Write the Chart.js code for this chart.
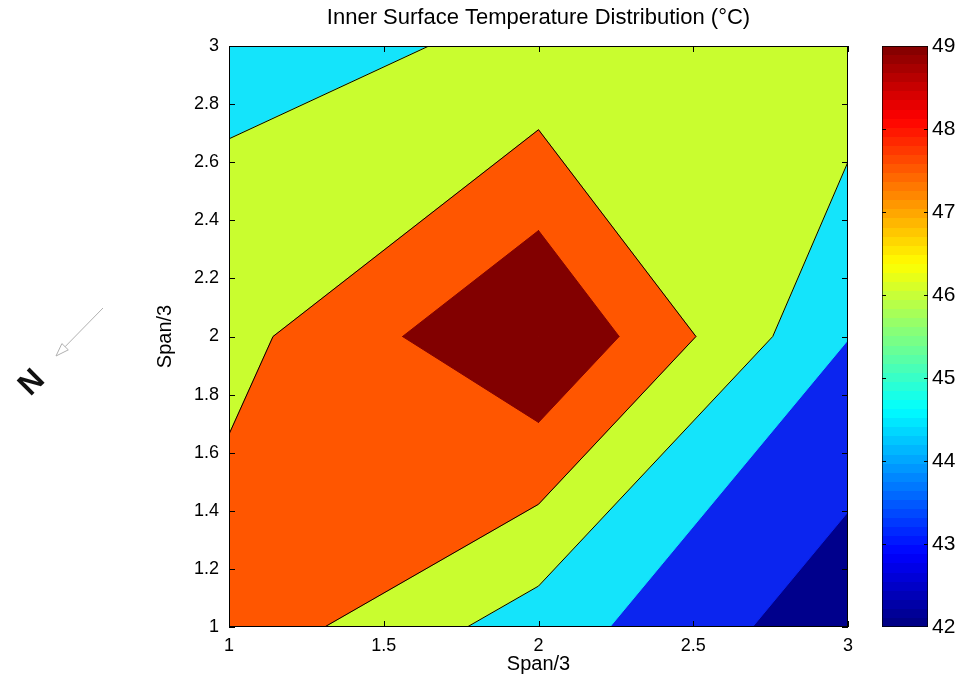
<!DOCTYPE html>
<html>
<head>
<meta charset="utf-8">
<title>Inner Surface Temperature Distribution</title>
<script src="https://cdn.jsdelivr.net/npm/chart.js@4.4.1/dist/chart.umd.min.js"></script>
<style>
  html, body { margin: 0; padding: 0; background: #fff; }
  #wrap { position: relative; width: 963px; height: 698px; }
  #contourChart { position: absolute; left: 0; top: 0; }
  #colorbarChart { position: absolute; left: 882px; top: 0; }
</style>
</head>
<body>
<div id="wrap">
  <canvas id="contourChart" width="963" height="698"></canvas>
  <canvas id="colorbarChart" width="81" height="698"></canvas>
</div>
<script>
// measurement grid, in Span/3 units
const spanX = [1, 2, 3];
const spanY = [1, 2, 3];
// inner surface temperatures (°C), one row per y position, columns follow spanX
const tempRowY1 = [46.67, 44.50, 42.33];
const tempRowY2 = [45.66, 48.05, 44.02];
const tempRowY3 = [44.69, 45.17, 45.65];

// contour levels and the colour of each band (below first level ... above last)
const levels = [43, 44, 45, 46, 47];
const bandColors = ['#00008c', '#0b25ef', '#14e4fb', '#c9fd2f', '#ff5600', '#820000'];
// only these levels get a black contour line
const outlinedLevels = [45, 46];

const xTicks = [1, 1.5, 2, 2.5, 3];
const yTicks = [1, 1.2, 1.4, 1.6, 1.8, 2, 2.2, 2.4, 2.6, 2.8, 3];
const cbTicks = [42, 43, 44, 45, 46, 47, 48, 49];
const cbMin = 42;
const cbMax = 49;

const FONT = '"Liberation Sans", Arial, sans-serif';
const temps = [tempRowY1, tempRowY2, tempRowY3];
const fmt = v => String(Math.round(v * 100) / 100);

// part of grid cell (i, j) where temperature >= level; edge crossings are linear
function cellPolygon(i, j, level) {
  const corners = [[i, j], [i + 1, j], [i + 1, j + 1], [i, j + 1]]
    .map(([a, b]) => ({ x: spanX[a], y: spanY[b], z: temps[b][a] }));
  const pts = [];
  for (let k = 0; k < 4; k++) {
    const p = corners[k];
    const q = corners[(k + 1) % 4];
    const pin = p.z >= level;
    const qin = q.z >= level;
    if (pin) pts.push({ x: p.x, y: p.y, cross: false });
    if (pin !== qin) {
      const t = (level - p.z) / (q.z - p.z);
      pts.push({ x: p.x + t * (q.x - p.x), y: p.y + t * (q.y - p.y), cross: true });
    }
  }
  return pts;
}

// contour segments = consecutive crossing points in the cell polygon
function cellSegments(poly) {
  const segs = [];
  for (let k = 0; k < poly.length; k++) {
    const a = poly[k];
    const b = poly[(k + 1) % poly.length];
    if (a.cross && b.cross) segs.push([a, b]);
  }
  return segs;
}

const datasets = [];
const bandFloors = [-Infinity, ...levels];

bandFloors.forEach((lv, li) => {
  for (let j = 0; j < spanY.length - 1; j++) {
    for (let i = 0; i < spanX.length - 1; i++) {
      const poly = cellPolygon(i, j, lv);
      if (poly.length < 3) continue;
      const pts = poly.map(p => ({ x: p.x, y: p.y }));
      pts.push(pts[0]);
      datasets.push({
        data: pts,
        showLine: true,
        fill: 'shape',
        backgroundColor: bandColors[li],
        borderColor: bandColors[li],
        borderWidth: 1,
        pointRadius: 0,
        order: 100 - li
      });
    }
  }
});

outlinedLevels.forEach(lv => {
  for (let j = 0; j < spanY.length - 1; j++) {
    for (let i = 0; i < spanX.length - 1; i++) {
      cellSegments(cellPolygon(i, j, lv)).forEach(([a, b]) => {
        datasets.push({
          data: [{ x: a.x, y: a.y }, { x: b.x, y: b.y }],
          showLine: true,
          fill: false,
          borderColor: '#000',
          borderWidth: 1,
          pointRadius: 0,
          order: 0
        });
      });
    }
  }
});

// box around the plot with inward ticks on all four sides
const frameTicks = {
  id: 'frameTicks',
  afterDatasetsDraw(chart) {
    const { ctx, chartArea: a, scales: { x, y } } = chart;
    const len = 6;
    ctx.save();
    ctx.strokeStyle = '#000';
    ctx.lineWidth = 1;
    ctx.beginPath();
    xTicks.forEach(v => {
      const px = Math.round(x.getPixelForValue(v)) + 0.5;
      ctx.moveTo(px, a.bottom); ctx.lineTo(px, a.bottom - len);
      ctx.moveTo(px, a.top); ctx.lineTo(px, a.top + len);
    });
    yTicks.forEach(v => {
      const py = Math.round(y.getPixelForValue(v)) + 0.5;
      ctx.moveTo(a.left, py); ctx.lineTo(a.left + len, py);
      ctx.moveTo(a.right, py); ctx.lineTo(a.right - len, py);
    });
    ctx.stroke();
    ctx.strokeRect(a.left + 0.5, a.top + 0.5, a.right - a.left - 1, a.bottom - a.top - 1);
    ctx.restore();
  }
};

// north arrow at the left of the plate
const northArrow = {
  id: 'northArrow',
  afterDraw(chart) {
    const ctx = chart.ctx;
    const x0 = 103, y0 = 308, x1 = 56, y1 = 356;
    const ang = Math.atan2(y1 - y0, x1 - x0);
    const hl = 13, hw = 4.5;
    const bx = x1 - hl * Math.cos(ang), by = y1 - hl * Math.sin(ang);
    ctx.save();
    ctx.strokeStyle = '#b0b0b0';
    ctx.lineWidth = 1;
    ctx.beginPath();
    ctx.moveTo(x0, y0);
    ctx.lineTo(bx, by);
    ctx.stroke();
    ctx.beginPath();
    ctx.moveTo(x1, y1);
    ctx.lineTo(bx + hw * Math.sin(ang), by - hw * Math.cos(ang));
    ctx.lineTo(bx - hw * Math.sin(ang), by + hw * Math.cos(ang));
    ctx.closePath();
    ctx.stroke();

    ctx.translate(32, 383);
    ctx.rotate(-Math.PI / 4);
    ctx.fillStyle = '#111';
    ctx.font = 'bold 31px ' + FONT;
    ctx.textAlign = 'center';
    ctx.textBaseline = 'middle';
    ctx.fillText('N', 0, 0);
    ctx.restore();
  }
};

new Chart(document.getElementById('contourChart'), {
  type: 'scatter',
  data: { datasets },
  options: {
    responsive: false,
    animation: false,
    events: [],
    layout: { padding: { left: 0, right: 115, top: 0, bottom: 0 } },
    plugins: {
      legend: { display: false },
      tooltip: { enabled: false },
      title: {
        display: true,
        text: 'Inner Surface Temperature Distribution (°C)',
        fullSize: false,
        color: '#000',
        font: { family: FONT, size: 22, weight: 'normal' },
        padding: { top: 5, bottom: 14.6 }
      }
    },
    scales: {
      x: {
        type: 'linear',
        min: 1,
        max: 3,
        afterBuildTicks: s => { s.ticks = xTicks.map(v => ({ value: v })); },
        afterFit: s => { s.height = 71; },
        grid: { display: false, drawTicks: false },
        border: { display: false },
        ticks: { padding: 8, color: '#000', font: { family: FONT, size: 18 }, maxRotation: 0, callback: fmt },
        title: {
          display: true,
          text: 'Span/3',
          color: '#000',
          font: { family: FONT, size: 20 },
          padding: { top: 0, bottom: 22 }
        }
      },
      y: {
        type: 'linear',
        min: 1,
        max: 3,
        afterBuildTicks: s => { s.ticks = yTicks.map(v => ({ value: v })); },
        afterFit: s => { s.width = 229; },
        grid: { display: false, drawTicks: false },
        border: { display: false },
        ticks: { padding: 10, color: '#000', font: { family: FONT, size: 18 }, callback: fmt },
        title: {
          display: true,
          text: 'Span/3',
          color: '#000',
          font: { family: FONT, size: 20 },
          padding: { top: 153, bottom: 0 }
        }
      }
    }
  },
  plugins: [frameTicks, northArrow]
});

// jet colour map, t in [0, 1]
function jet(t) {
  const c = v => Math.round(255 * Math.min(1, Math.max(0, v)));
  return 'rgb(' + c(1.5 - Math.abs(4 * t - 3)) + ',' + c(1.5 - Math.abs(4 * t - 2)) + ',' + c(1.5 - Math.abs(4 * t - 1)) + ')';
}

function jetGradient(chart) {
  const area = chart.chartArea;
  if (!area) return '#000080';
  const y = chart.scales.y;
  const g = chart.ctx.createLinearGradient(0, y.getPixelForValue(cbMin), 0, y.getPixelForValue(cbMax));
  const n = 64;
  for (let k = 0; k < n; k++) {
    const col = jet((k + 0.5) / n);
    g.addColorStop(k / n, col);
    g.addColorStop((k + 1) / n, col);
  }
  return g;
}

const colorbarTicks = {
  id: 'colorbarTicks',
  afterDatasetsDraw(chart) {
    const { ctx, chartArea: a, scales: { y } } = chart;
    ctx.save();
    ctx.strokeStyle = '#000';
    ctx.lineWidth = 1;
    ctx.beginPath();
    cbTicks.slice(1, -1).forEach(v => {
      const py = Math.round(y.getPixelForValue(v)) + 0.5;
      ctx.moveTo(a.left, py); ctx.lineTo(a.left + 4, py);
      ctx.moveTo(a.right, py); ctx.lineTo(a.right - 4, py);
    });
    ctx.stroke();
    ctx.restore();
  }
};

new Chart(document.getElementById('colorbarChart'), {
  type: 'bar',
  data: {
    labels: [''],
    datasets: [{
      data: [[cbMin, cbMax]],
      backgroundColor: ctx => jetGradient(ctx.chart),
      borderColor: '#000',
      borderWidth: 1,
      borderSkipped: false,
      barPercentage: 1,
      categoryPercentage: 1
    }]
  },
  options: {
    responsive: false,
    animation: false,
    events: [],
    layout: { padding: { top: 46, bottom: 71, left: 0, right: 0 } },
    plugins: { legend: { display: false }, tooltip: { enabled: false } },
    scales: {
      x: { display: false },
      y: {
        position: 'right',
        min: cbMin,
        max: cbMax,
        afterBuildTicks: s => { s.ticks = cbTicks.map(v => ({ value: v })); },
        afterFit: s => { s.width = 35; },
        grid: { display: false, drawTicks: false },
        border: { display: false },
        ticks: { padding: 4, color: '#000', font: { family: FONT, size: 21 } }
      }
    }
  },
  plugins: [colorbarTicks]
});
</script>
</body>
</html>
